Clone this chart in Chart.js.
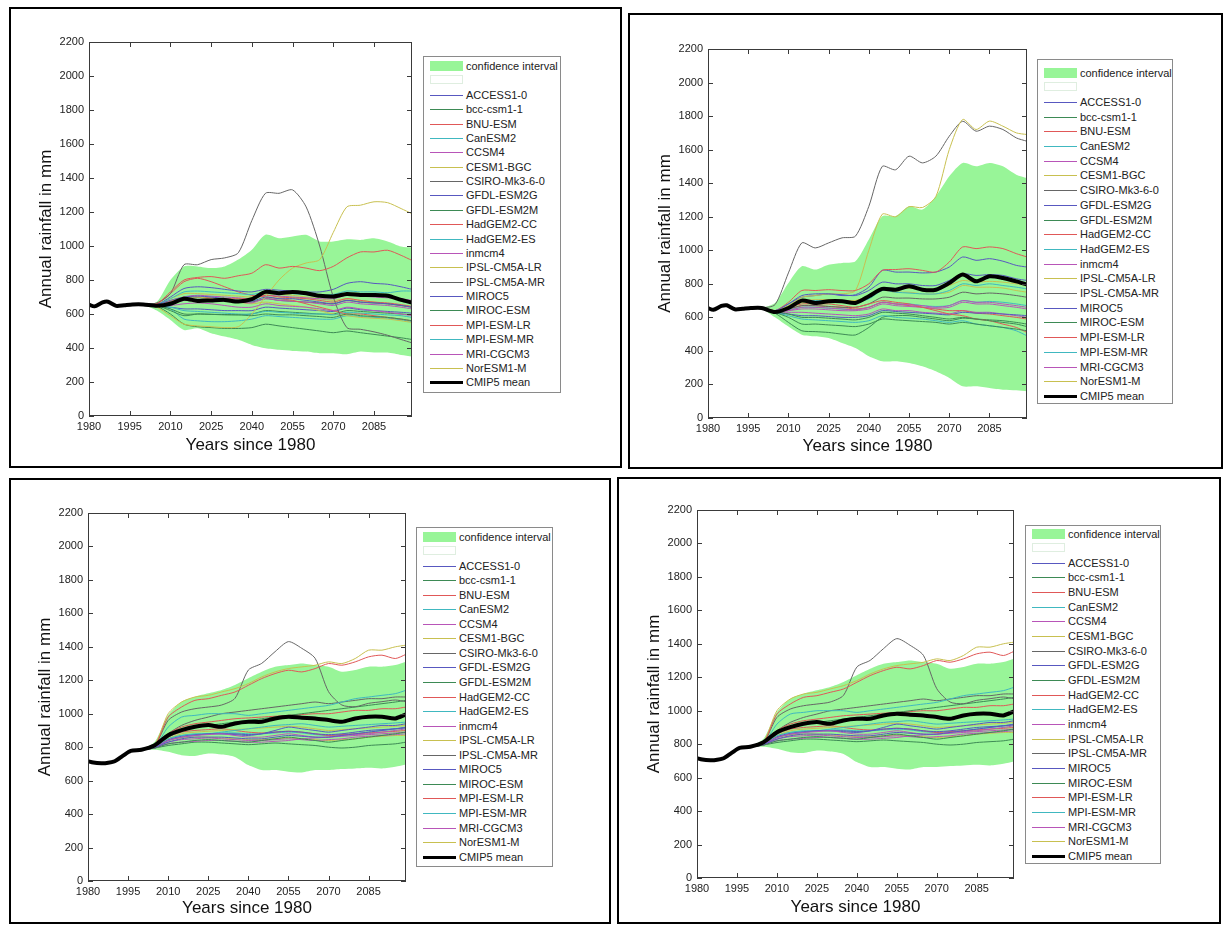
<!DOCTYPE html>
<html><head><meta charset="utf-8">
<script src="https://cdn.jsdelivr.net/npm/chart.js@4.4.1/dist/chart.umd.min.js"></script>
<style>
body{margin:0;background:#fff;width:1225px;height:926px;position:relative;overflow:hidden;font-family:"Liberation Sans",Arial,Helvetica,sans-serif;}
.box{position:absolute;border:2px solid #000;box-sizing:border-box;}
.cv{position:absolute;}
.legend{position:absolute;border:1px solid #8a8a8a;box-sizing:border-box;background:#fff;}
.row{position:absolute;left:0;right:0;height:14px;font-size:11px;line-height:14px;color:#222;white-space:nowrap;}
.sw{position:absolute;left:6px;width:33px;}
.tx{position:absolute;left:42px;top:0;}
</style>
</head><body>
<script>
// ---------------- DATA ----------------
const modelNames = ['ACCESS1-0','bcc-csm1-1','BNU-ESM','CanESM2','CCSM4','CESM1-BGC','CSIRO-Mk3-6-0','GFDL-ESM2G','GFDL-ESM2M','HadGEM2-CC','HadGEM2-ES','inmcm4','IPSL-CM5A-LR','IPSL-CM5A-MR','MIROC5','MIROC-ESM','MPI-ESM-LR','MPI-ESM-MR','MRI-CGCM3','NorESM1-M'];
const histYears = [1980,1982,1985,1987,1990,1993,1996,2000];
const projYears = [2005,2010,2015,2020,2025,2030,2035,2040,2045,2050,2055,2060,2065,2070,2075,2080,2085,2090,2095,2099];
const xTickValues = [1980,1995,2010,2025,2040,2055,2070,2085];
const yMax = 2200;

// observed history (shared by all models)
const histTop = [655,645,668,672,648,652,656,656];
const histBottom = [716,708,704,705,716,748,778,785];

// ---- Top-left panel ----
const tlMean  = [648,660,690,677,680,683,673,687,730,722,730,722,707,703,718,712,712,707,683,667];
const tlLower = [620,565,506,516,487,467,448,418,398,389,383,379,369,369,363,379,373,373,359,350];
const tlUpper = [672,800,880,880,870,880,920,978,1066,1046,1056,1066,1027,1027,1040,1036,1046,1027,997,991];
const tlModels = [
  [655,680,700,705,700,690,680,675,700,690,690,680,670,660,680,670,665,660,650,640],   // ACCESS1-0
  [650,630,600,600,598,595,595,590,600,595,595,590,585,580,600,590,585,580,570,560],   // bcc-csm1-1
  [660,730,800,815,820,810,825,840,890,870,880,870,855,880,930,965,965,975,945,915],   // BNU-ESM
  [655,690,730,735,730,725,720,715,730,725,720,715,710,715,735,730,730,725,735,735],   // CanESM2
  [650,650,660,665,660,650,640,640,660,650,645,640,630,620,640,630,620,610,600,590],   // CCSM4
  [640,590,540,530,525,520,525,600,700,800,870,900,920,1080,1230,1240,1260,1255,1220,1190], // CESM1-BGC
  [665,720,890,890,920,930,960,1150,1310,1310,1330,1230,1000,700,520,510,495,475,450,430], // CSIRO-Mk3-6-0
  [655,700,750,760,755,745,735,730,745,740,735,730,730,745,780,790,780,775,760,745],   // GFDL-ESM2G
  [645,600,540,525,520,515,515,520,540,530,520,510,500,490,500,490,480,470,460,450],   // GFDL-ESM2M
  [660,720,790,810,790,760,730,710,700,690,680,660,640,620,600,600,590,580,570,560],   // HadGEM2-CC
  [650,640,620,615,610,605,600,600,615,610,605,600,600,595,610,605,600,595,590,580],   // HadGEM2-ES
  [650,660,680,685,680,675,670,665,690,680,675,670,660,650,670,660,655,650,640,630],   // inmcm4
  [655,680,700,700,690,680,670,660,670,660,650,640,620,600,590,580,575,570,560,550],   // IPSL-CM5A-LR
  [650,670,690,695,690,680,670,670,690,680,675,670,665,660,680,670,665,660,650,640],   // IPSL-CM5A-MR
  [650,640,630,630,625,620,620,620,640,635,630,625,620,615,635,625,620,615,610,605],   // MIROC5
  [650,620,590,600,598,597,595,600,620,615,610,605,600,600,620,615,610,605,600,595],   // MIROC-ESM
  [655,675,700,700,695,690,690,690,710,700,695,690,680,670,690,680,670,665,655,645],   // MPI-ESM-LR
  [650,630,570,560,555,555,560,570,590,585,580,575,570,570,590,585,580,575,565,555],   // MPI-ESM-MR
  [650,660,700,710,705,700,695,690,710,705,700,695,690,690,710,705,700,695,690,680],   // MRI-CGCM3
  [655,690,720,720,715,710,705,700,720,715,710,700,690,680,690,680,670,660,650,640]    // NorESM1-M
];

// ---- Top-right panel ----
const trMean  = [632,656,700,686,696,696,686,726,770,765,785,765,765,805,855,815,845,835,815,795];
const trLower = [600,545,497,487,477,447,417,368,338,338,328,308,278,239,189,189,179,169,165,159];
const trUpper = [686,805,905,885,914,924,934,1064,1203,1203,1262,1243,1322,1441,1521,1501,1521,1501,1451,1431];
const trModels = [
  [640,680,730,740,740,735,730,760,810,800,800,790,790,820,860,850,855,850,830,820],   // ACCESS1-0
  [635,620,600,600,595,590,585,600,630,625,620,610,600,590,600,590,580,570,560,545],   // bcc-csm1-1
  [640,690,760,760,765,760,760,800,880,885,890,880,870,930,1020,1010,1020,1010,980,960], // BNU-ESM
  [635,660,700,700,700,695,690,710,760,750,745,740,740,760,800,790,800,790,780,770],   // CanESM2
  [635,640,660,660,655,650,645,660,690,680,675,670,660,670,700,690,690,680,670,660],   // CCSM4
  [640,670,720,730,740,740,760,1000,1215,1200,1260,1255,1320,1600,1780,1720,1770,1740,1700,1690], // CESM1-BGC
  [676,865,1044,1014,1044,1074,1084,1262,1500,1480,1561,1521,1561,1680,1769,1710,1740,1720,1670,1650], // CSIRO-Mk3-6-0
  [640,680,720,730,740,730,735,780,880,870,870,865,870,900,960,940,950,935,910,900],   // GFDL-ESM2G
  [630,600,560,560,555,550,545,560,590,585,580,575,570,560,570,560,550,540,530,520],   // GFDL-ESM2M
  [640,660,680,680,680,670,660,680,700,690,680,660,640,620,610,590,580,560,540,510],   // HadGEM2-CC
  [630,610,590,585,580,575,570,580,610,600,595,590,580,570,580,560,550,540,520,490],   // HadGEM2-ES
  [635,640,650,650,645,640,640,650,680,670,665,660,655,660,690,680,680,670,660,650],   // inmcm4
  [640,660,690,700,700,700,700,730,770,770,775,770,770,790,820,810,815,810,800,790],   // IPSL-CM5A-LR
  [635,650,670,670,665,660,660,680,720,715,715,710,710,720,750,740,745,740,730,720],   // IPSL-CM5A-MR
  [630,620,610,610,605,600,600,610,640,635,630,625,620,615,630,625,625,620,615,610],   // MIROC5
  [625,570,520,515,510,500,495,540,600,610,610,600,590,580,595,590,585,580,570,560],   // MIROC-ESM
  [635,650,670,670,665,660,650,660,690,680,670,660,650,640,640,625,620,610,600,590],   // MPI-ESM-LR
  [635,645,660,660,655,650,645,660,690,680,680,670,665,670,700,690,695,690,680,670],   // MPI-ESM-MR
  [635,630,630,625,620,615,610,620,650,640,640,630,625,620,640,630,630,620,610,600],   // MRI-CGCM3
  [640,665,700,705,705,700,700,720,760,750,750,740,740,750,790,780,780,775,760,750]    // NorESM1-M
];

// ---- Bottom panels (left and right show the same data) ----
const btMean  = [812,872,902,922,932,922,942,952,952,972,982,976,972,962,952,972,982,982,972,996];
const btLower = [784,772,752,748,762,756,742,693,663,663,653,649,663,663,669,673,677,673,683,697];
const btUpper = [832,992,1072,1102,1122,1142,1172,1212,1251,1281,1291,1301,1291,1281,1251,1261,1281,1281,1291,1311];
const btModels = [
  [800,830,850,860,860,860,855,850,850,860,870,865,860,860,870,880,890,900,910,920],   // ACCESS1-0
  [795,820,830,840,845,840,835,830,840,850,860,850,840,830,840,850,860,870,880,890],   // bcc-csm1-1
  [810,980,1040,1080,1090,1110,1130,1170,1210,1240,1260,1250,1270,1300,1290,1310,1340,1350,1330,1355], // BNU-ESM
  [805,920,980,990,1000,1000,1000,990,1000,1010,1020,1030,1040,1050,1070,1090,1100,1110,1120,1140], // CanESM2
  [800,840,860,870,875,880,870,860,860,870,880,870,860,860,870,875,880,890,900,910],   // CCSM4
  [815,1000,1070,1100,1110,1130,1150,1180,1220,1250,1270,1280,1290,1310,1300,1330,1380,1380,1400,1410], // CESM1-BGC
  [810,960,1010,1030,1040,1052,1092,1261,1301,1371,1431,1391,1331,1132,1052,1042,1062,1072,1082,1072], // CSIRO-Mk3-6-0
  [800,840,860,870,880,880,875,870,880,900,920,910,900,890,900,910,920,930,930,940],   // GFDL-ESM2G
  [800,860,900,920,930,940,950,960,970,980,990,1000,1010,1020,1030,1040,1050,1060,1070,1080], // GFDL-ESM2M
  [805,880,920,940,950,960,970,975,980,985,990,995,1000,1000,1010,1020,1020,1030,1030,1040], // HadGEM2-CC
  [800,850,870,880,880,890,900,910,920,930,935,940,930,920,925,930,935,940,945,950],   // HadGEM2-ES
  [795,820,830,835,840,840,835,830,830,835,840,850,855,860,865,870,875,880,885,890],   // inmcm4
  [805,850,880,890,895,900,905,910,915,920,925,920,910,900,905,910,915,920,925,930],   // IPSL-CM5A-LR
  [800,880,930,960,980,1000,1010,1020,1030,1040,1050,1060,1070,1060,1070,1080,1090,1090,1100,1100], // IPSL-CM5A-MR
  [800,845,865,875,880,880,880,875,880,890,895,890,880,875,880,890,900,905,910,915],   // MIROC5
  [795,810,820,830,830,825,820,815,820,825,820,815,810,800,795,800,810,815,820,830],   // MIROC-ESM
  [800,860,890,900,905,910,900,890,885,890,895,890,880,870,875,880,885,890,895,900],   // MPI-ESM-LR
  [800,850,870,875,880,885,885,880,880,885,890,885,875,870,875,880,890,900,910,915],   // MPI-ESM-MR
  [795,830,845,850,855,850,845,840,840,845,850,845,840,845,850,860,865,870,875,880],   // MRI-CGCM3
  [800,840,855,860,860,855,850,845,845,850,855,850,845,840,845,850,860,865,870,870]    // NorESM1-M
];

// ---------------- STYLE / LAYOUT ----------------
const lineColors = ['#5858c0','#3d8a55','#e05858','#40b8c0','#b855b8','#c8c050','#666666'];
const bandColor = '#98f598';

const panels = [
  {box:[9,7,613,461],   plot:[89,42,412,416],   titleX:10, hist:histTop,    mean:tlMean, lower:tlLower, upper:tlUpper, models:tlModels,
   legend:{left:423,top:56,w:138,h:337,y0:10,step:14.38}},
  {box:[628,13,595,456], plot:[708,49,1027,418], titleX:11, hist:histTop,    mean:trMean, lower:trLower, upper:trUpper, models:trModels,
   legend:{left:1037,top:59,w:136,h:345,y0:13.5,step:14.7}},
  {box:[9,478,602,446],  plot:[88,513,406,881],  titleX:12, hist:histBottom, mean:btMean, lower:btLower, upper:btUpper, models:btModels,
   legend:{left:416,top:527,w:137,h:340,y0:9.5,step:14.55}},
  {box:[617,477,604,447],plot:[697,510,1014,878],titleX:10, hist:histBottom, mean:btMean, lower:btLower, upper:btUpper, models:btModels,
   legend:{left:1025,top:525,w:136,h:339,y0:8.5,step:14.65}}
];

const YW = 70, XH = 50, PT = 12, PR = 12;

const framePlugin = {
  id:'frame',
  afterDatasetsDraw(chart){
    const {ctx, chartArea:a, scales:{x,y}} = chart;
    ctx.save();
    ctx.strokeStyle = '#3a3a3a'; ctx.lineWidth = 1;
    ctx.strokeRect(Math.round(a.left)+0.5, Math.round(a.top)+0.5, Math.round(a.right-a.left)-1, Math.round(a.bottom-a.top)-1);
    const L = 5;
    ctx.beginPath();
    y.ticks.forEach(t=>{
      const py = Math.round(y.getPixelForValue(t.value))+0.5;
      ctx.moveTo(a.left,py); ctx.lineTo(a.left+L,py);
      ctx.moveTo(a.right,py); ctx.lineTo(a.right-L,py);
    });
    x.ticks.forEach(t=>{
      const px = Math.round(x.getPixelForValue(t.value))+0.5;
      ctx.moveTo(px,a.bottom); ctx.lineTo(px,a.bottom-L);
      ctx.moveTo(px,a.top); ctx.lineTo(px,a.top+L);
    });
    ctx.stroke();
    ctx.restore();
  }
};

function seriesPoints(hist, proj){
  return histYears.map((x,i)=>({x, y:hist[i]})).concat(projYears.map((x,i)=>({x, y:proj[i]})));
}
function bandPoints(hist, proj){
  return [{x:histYears[histYears.length-1], y:hist[hist.length-1]}].concat(projYears.map((x,i)=>({x, y:proj[i]})));
}

const FONT = '"Liberation Sans", Arial, Helvetica, sans-serif';
const plainNum = (v)=>String(v);

panels.forEach((p, pi)=>{
  const box = document.createElement('div');
  box.className = 'box';
  Object.assign(box.style,{left:p.box[0]+'px',top:p.box[1]+'px',width:p.box[2]+'px',height:p.box[3]+'px'});
  document.body.appendChild(box);

  const [l,t,r,b] = p.plot;
  const cv = document.createElement('canvas');
  cv.className = 'cv';
  const W = r-l+YW+PR, H = b-t+PT+XH;
  cv.width = W; cv.height = H;
  Object.assign(cv.style,{left:(l-YW)+'px', top:(t-PT)+'px', width:W+'px', height:H+'px'});
  document.body.appendChild(cv);

  const datasets = [];
  datasets.push({label:'CMIP5 mean', data:seriesPoints(p.hist,p.mean), borderColor:'#000', borderWidth:4, pointRadius:0, tension:0.25, order:0, fill:false});
  p.models.forEach((m,i)=>{
    datasets.push({label:modelNames[i], data:seriesPoints(p.hist,m), borderColor:lineColors[i%lineColors.length], borderWidth:1, pointRadius:0, tension:0.25, order:1+i, fill:false});
  });
  datasets.push({label:'lower', data:bandPoints(p.hist,p.lower), borderWidth:0, borderColor:'rgba(0,0,0,0)', pointRadius:0, tension:0.25, order:50, fill:false});
  datasets.push({label:'confidence interval', data:bandPoints(p.hist,p.upper), borderWidth:0, borderColor:'rgba(0,0,0,0)', backgroundColor:bandColor, pointRadius:0, tension:0.25, order:51, fill:'-1'});

  new Chart(cv, {
    type:'line',
    data:{datasets},
    plugins:[framePlugin],
    options:{
      responsive:false, animation:false, devicePixelRatio:1,
      layout:{padding:{top:PT,right:PR,left:0,bottom:0}},
      plugins:{legend:{display:false}, tooltip:{enabled:false}},
      scales:{
        x:{type:'linear', min:1980, max:2099,
           grid:{display:false, drawTicks:false}, border:{display:false},
           ticks:{font:{family:FONT,size:11}, color:'#222', padding:4, maxRotation:0, autoSkip:false, callback:plainNum},
           afterBuildTicks:(s)=>{ s.ticks = xTickValues.map(v=>({value:v})); },
           afterFit:(s)=>{ s.height = XH; },
           title:{display:true, text:'Years since 1980', font:{family:FONT,size:17,lineHeight:1.2}, color:'#111', padding:{top:0,bottom:p.titleX}}},
        y:{type:'linear', min:0, max:yMax,
           grid:{display:false, drawTicks:false}, border:{display:false},
           ticks:{stepSize:200, font:{family:FONT,size:11}, color:'#222', padding:5, callback:plainNum},
           afterFit:(s)=>{ s.width = YW; },
           title:{display:true, text:'Annual rainfall in mm', font:{family:FONT,size:17,lineHeight:1.2}, color:'#111', padding:{top:17,bottom:0}}}
      }
    }
  });

  // legend
  const lg = p.legend;
  const leg = document.createElement('div');
  leg.className = 'legend';
  Object.assign(leg.style,{left:lg.left+'px',top:lg.top+'px',width:lg.w+'px',height:lg.h+'px'});
  const entries = [{name:'confidence interval', kind:'band'},{name:'', kind:'empty'}]
    .concat(modelNames.map((n,i)=>({name:n, kind:'line', color:lineColors[i%lineColors.length], w:1})))
    .concat([{name:'CMIP5 mean', kind:'line', color:'#000', w:3}]);
  entries.forEach((e,i)=>{
    const row = document.createElement('div');
    row.className = 'row';
    row.style.top = (lg.y0 + i*lg.step - 7 - 1) + 'px';
    const sw = document.createElement('div');
    sw.className = 'sw';
    if (e.kind==='band'){ sw.style.top='2px'; sw.style.height='10px'; sw.style.background=bandColor; }
    else if (e.kind==='empty'){ sw.style.top='2px'; sw.style.height='9px'; sw.style.boxSizing='border-box'; sw.style.border='1px solid #dfeee0'; sw.style.background='#fff'; }
    else { sw.style.top=(7-Math.floor(e.w/2))+'px'; sw.style.height=e.w+'px'; sw.style.background=e.color; }
    row.appendChild(sw);
    if (e.name){ const tx=document.createElement('span'); tx.className='tx'; tx.textContent=e.name; row.appendChild(tx); }
    leg.appendChild(row);
  });
  document.body.appendChild(leg);
});
</script>
</body></html>
